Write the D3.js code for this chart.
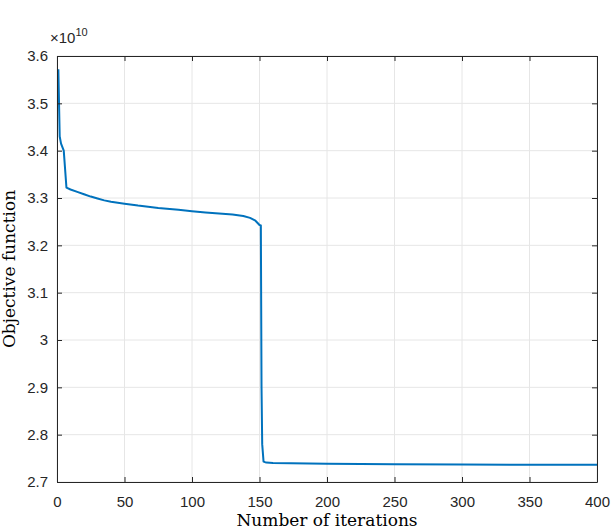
<!DOCTYPE html>
<html>
<head>
<meta charset="utf-8">
<script src="https://cdn.jsdelivr.net/npm/d3@7"></script>
<style>
  body { margin: 0; background: #fff; }
  .axlabel { font-family: "DejaVu Serif", "Liberation Serif", serif; font-size: 17px; fill: #000; }
</style>
</head>
<body>
<div id="chart"></div>
<script>

// objective value vs iteration (values in units of 1e10)
var iterations = [1, 2, 3, 5, 7, 10, 15, 20, 25, 30, 35, 40, 50, 60, 75, 90, 100, 110, 120, 130, 138, 143, 147, 150, 151, 151.5, 152, 153, 155, 160, 200, 250, 300, 350, 400]
var objective  = [3.572, 3.43, 3.415, 3.40, 3.322, 3.318, 3.313, 3.308, 3.303, 3.299, 3.295, 3.292, 3.288, 3.284, 3.279, 3.275, 3.272, 3.2695, 3.267, 3.265, 3.262, 3.258, 3.252, 3.243, 3.242, 2.90, 2.78, 2.743, 2.741, 2.740, 2.7385, 2.7375, 2.737, 2.7365, 2.7365]

var xTicks = [0, 50, 100, 150, 200, 250, 300, 350, 400]
var yTicks = [2.7, 2.8, 2.9, 3.0, 3.1, 3.2, 3.3, 3.4, 3.5, 3.6]
var yTickLabels = ["2.7", "2.8", "2.9", "3", "3.1", "3.2", "3.3", "3.4", "3.5", "3.6"]

var width = 612, height = 530
var margin = { left: 57, right: 15, top: 56, bottom: 48 }

var svg = d3.select("#chart").append("svg")
    .attr("width", width)
    .attr("height", height)

var x = d3.scaleLinear().domain([0, 400]).range([margin.left, width - margin.right])
var y = d3.scaleLinear().domain([2.7, 3.6]).range([height - margin.bottom, margin.top])

// grid
var grid = svg.append("g")
grid.selectAll(".gx").data(xTicks).enter().append("line")
    .attr("x1", d => x(d)).attr("x2", d => x(d))
    .attr("y1", y(2.7)).attr("y2", y(3.6))
    .attr("stroke", "#e6e6e6").attr("stroke-width", 1)
grid.selectAll(".gy").data(yTicks).enter().append("line")
    .attr("x1", x(0)).attr("x2", x(400))
    .attr("y1", d => y(d)).attr("y2", d => y(d))
    .attr("stroke", "#e6e6e6").attr("stroke-width", 1)

// line
var line = d3.line().x((d, i) => x(iterations[i])).y(d => y(d))

svg.append("path")
    .datum(objective)
    .attr("fill", "none")
    .attr("stroke", "#0072BD")
    .attr("stroke-width", 2)
    .attr("stroke-linejoin", "round")
    .attr("d", line)

// axes (ticks pointing inwards, box all round)
var axes = svg.append("g")

axes.append("g")
    .attr("transform", `translate(0,${y(2.7)})`)
    .call(d3.axisBottom(x).tickValues(xTicks).tickSizeInner(-5).tickSizeOuter(0).tickPadding(14))
axes.append("g")
    .attr("transform", `translate(0,${y(3.6)})`)
    .call(d3.axisTop(x).tickValues(xTicks).tickSizeInner(-5).tickSizeOuter(0).tickFormat(""))
axes.append("g")
    .attr("transform", `translate(${x(0)},0)`)
    .call(d3.axisLeft(y).tickValues(yTicks).tickSizeInner(-5).tickSizeOuter(0).tickPadding(9)
        .tickFormat((d, i) => yTickLabels[i]))
axes.append("g")
    .attr("transform", `translate(${x(400)},0)`)
    .call(d3.axisRight(y).tickValues(yTicks).tickSizeInner(-5).tickSizeOuter(0).tickFormat(""))

axes.selectAll("g")
    .attr("font-size", 15)
    .attr("font-family", "Liberation Sans, Arial, sans-serif")
axes.selectAll(".domain").attr("stroke", "#262626").attr("stroke-width", 1)
axes.selectAll(".tick line").attr("stroke", "#262626")
axes.selectAll(".tick text").attr("fill", "#262626")

// exponent
var expo = svg.append("text")
    .attr("x", x(0) - 7)
    .attr("y", y(3.6) - 13)
    .attr("font-family", "Liberation Sans, Arial, sans-serif")
    .attr("font-size", 15)
    .attr("fill", "#262626")
expo.append("tspan").text("\u00d710")
expo.append("tspan").attr("dy", -7).attr("font-size", 11).text("10")

// axis labels
svg.append("text")
    .attr("class", "axlabel")
    .attr("x", (x(0) + x(400)) / 2)
    .attr("y", height - 4)
    .attr("text-anchor", "middle")
    .text("Number of iterations")

svg.append("text")
    .attr("class", "axlabel")
    .attr("transform", `translate(15,${(y(2.7) + y(3.6)) / 2}) rotate(-90)`)
    .attr("text-anchor", "middle")
    .text("Objective function")

</script>
</body>
</html>
